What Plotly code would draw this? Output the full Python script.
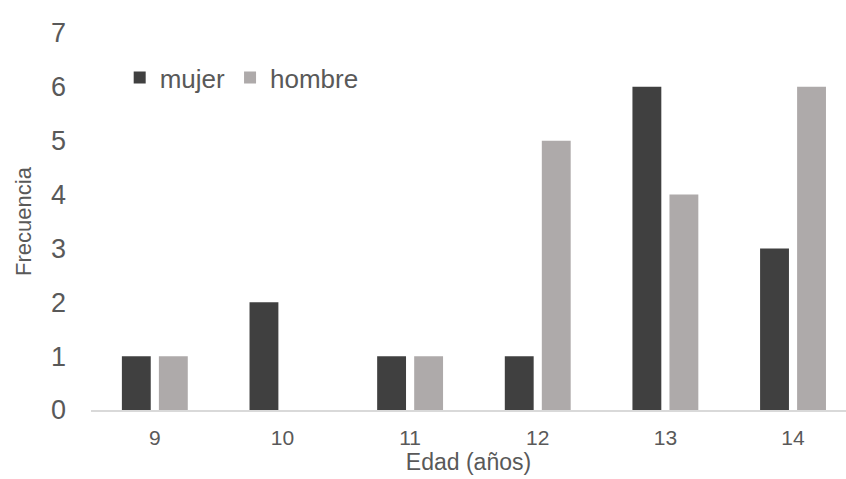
import plotly.graph_objects as go

# Frecuencia de edades por sexo
edades = ["9", "10", "11", "12", "13", "14"]
mujer = [1, 2, 1, 1, 6, 3]
hombre = [1, 0, 1, 5, 4, 6]

COLOR_MUJER = "#404040"
COLOR_HOMBRE = "#AEAAAA"
TEXT_COLOR = "#595959"
FONT = "Liberation Sans, Arial, sans-serif"

fig = go.Figure()
fig.add_trace(go.Bar(name="mujer", x=edades, y=mujer,
                     marker=dict(color=COLOR_MUJER, line=dict(width=0))))
fig.add_trace(go.Bar(name="hombre", x=edades, y=hombre,
                     marker=dict(color=COLOR_HOMBRE, line=dict(width=0))))

fig.update_layout(
    width=846, height=479,
    margin=dict(l=91, r=0, t=33, b=69),
    paper_bgcolor="white", plot_bgcolor="white",
    font=dict(family=FONT, color=TEXT_COLOR),
    barmode="group", bargap=0.42, bargroupgap=0.22,
    showlegend=True,
    legend=dict(orientation="h", x=0.038, y=0.882, xanchor="left", yanchor="middle",
                font=dict(size=26, color=TEXT_COLOR), bgcolor="rgba(0,0,0,0)",
                itemclick=False, itemwidth=30, tracegroupgap=0),
    xaxis=dict(
        type="category", range=[-0.5, 5.415],
        showline=True, linecolor="#D9D9D9", linewidth=1.5,
        showgrid=False, zeroline=False, ticks="",
        tickfont=dict(size=21, color=TEXT_COLOR),
        ticklabelstandoff=8,
        title=dict(text="Edad (años)", font=dict(size=23, color=TEXT_COLOR), standoff=1),
    ),
    yaxis=dict(
        range=[0, 7], tickmode="array", tickvals=list(range(8)),
        showline=False, showgrid=False, zeroline=False, ticks="",
        tickfont=dict(size=27, color=TEXT_COLOR),
        ticklabelstandoff=24,
        title=dict(text="Frecuencia", font=dict(size=22, color=TEXT_COLOR), standoff=13),
    ),
)

fig.write_html("out.html")
